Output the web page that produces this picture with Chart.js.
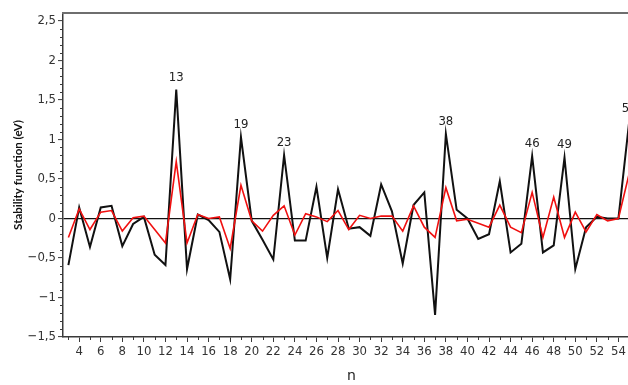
<!DOCTYPE html>
<html>
<head>
<meta charset="utf-8">
<script src="https://cdn.jsdelivr.net/npm/chart.js@4/dist/chart.umd.min.js"></script>
<style>
  html, body { margin: 0; padding: 0; background: #fff; overflow: hidden; width: 628px; height: 385px; }
  #wrap { position: absolute; left: 0; top: 0; width: 640px; height: 385px; }
</style>
</head>
<body>
<div id="wrap"><canvas id="c" width="640" height="385"></canvas></div>
<script>
// Cluster size n
const sizes = [3,4,5,6,7,8,9,10,11,12,13,14,15,16,17,18,19,20,21,22,23,24,25,26,27,28,29,30,
  31,32,33,34,35,36,37,38,39,40,41,42,43,44,45,46,47,48,49,50,51,52,53,54,55];

// Stability function (eV), black curve
const stabilityBlack = [-0.59,0.14,-0.36,0.14,0.16,-0.35,-0.07,0.02,-0.46,-0.59,1.63,-0.64,0.05,-0.02,-0.17,-0.77,
  1.03,-0.03,-0.27,-0.52,0.80,-0.28,-0.28,0.40,-0.50,0.37,-0.13,-0.11,-0.22,0.43,0.09,-0.57,0.17,0.33,-1.22,
  1.07,0.11,0.00,-0.26,-0.20,0.47,-0.43,-0.32,0.79,-0.43,-0.34,0.77,-0.64,-0.11,0.02,0.00,0.00,1.23];

// Stability function (eV), red curve
const stabilityRed = [-0.24,0.12,-0.14,0.08,0.10,-0.16,0.01,0.03,-0.14,-0.31,0.72,-0.31,0.05,0.00,0.02,-0.38,
  0.42,-0.03,-0.16,0.04,0.16,-0.21,0.06,0.02,-0.04,0.10,-0.14,0.04,0.00,0.03,0.03,-0.16,0.16,-0.11,-0.24,
  0.39,-0.03,-0.01,-0.06,-0.11,0.17,-0.11,-0.18,0.33,-0.24,0.27,-0.24,0.08,-0.17,0.05,-0.03,0.00,0.57];

// Magic sizes annotated above the black curve
const magicSizes = [13, 19, 23, 38, 46, 49, 55];

// Axis tick values
const xTickValues = [4,6,8,10,12,14,16,18,20,22,24,26,28,30,32,34,36,38,40,42,44,46,48,50,52,54];
const yTickValues = [-1.5,-1,-0.5,0,0.5,1,1.5,2,2.5];

const TICK_FONT = { family: "'Liberation Sans Narrow', 'DejaVu Sans Condensed', 'Liberation Sans', sans-serif", size: 13 };
const AXIS_COLOR = '#3a3a3a';

const toPoints = ys => sizes.map((n, i) => ({ x: n, y: ys[i] }));
const fmt = v => (v < 0 ? '\u2212' : '') + String(Math.abs(v)).replace('.', ',');

// Minor ticks, top frame line and size annotations
const extras = {
  id: 'extras',
  afterDraw(chart) {
    const { ctx, chartArea, scales } = chart;
    const x = scales.x, y = scales.y;
    ctx.save();
    // top frame
    ctx.strokeStyle = '#6e6e6e';
    ctx.lineWidth = 2;
    ctx.beginPath();
    ctx.moveTo(chartArea.left - 1, chartArea.top);
    ctx.lineTo(chartArea.right, chartArea.top);
    ctx.stroke();
    // minor ticks
    ctx.strokeStyle = AXIS_COLOR;
    ctx.lineWidth = 1;
    ctx.beginPath();
    for (let k = Math.ceil(x.min); k <= x.max; k++) {
      if (k % 2 === 0) continue;
      const px = Math.round(x.getPixelForValue(k)) + 0.5;
      ctx.moveTo(px, chartArea.bottom);
      ctx.lineTo(px, chartArea.bottom + 3);
    }
    for (let k = Math.round(y.min * 10); k <= Math.round(2.5 * 10); k++) {
      if (k % 5 === 0) continue;
      const py = Math.round(y.getPixelForValue(k / 10)) + 0.5;
      ctx.moveTo(chartArea.left, py);
      ctx.lineTo(chartArea.left - 3, py);
    }
    ctx.stroke();
    // annotations
    ctx.fillStyle = '#222';
    ctx.font = "13px 'Liberation Sans Narrow', 'DejaVu Sans Condensed', 'Liberation Sans', sans-serif";
    ctx.textAlign = 'center';
    ctx.textBaseline = 'bottom';
    magicSizes.forEach(n => {
      const i = sizes.indexOf(n);
      const px = x.getPixelForValue(n);
      const py = y.getPixelForValue(stabilityBlack[i]);
      ctx.fillText(String(n), px, py - 6);
    });
    ctx.restore();
  }
};

new Chart(document.getElementById('c'), {
  type: 'line',
  data: {
    datasets: [
      { label: 'red', data: toPoints(stabilityRed), borderColor: '#f01010', borderWidth: 1.6,
        pointRadius: 0, tension: 0, fill: false },
      { label: 'black', data: toPoints(stabilityBlack), borderColor: '#111', borderWidth: 2,
        pointRadius: 0, tension: 0, fill: false }
    ]
  },
  options: {
    responsive: false,
    animation: false,
    events: [],
    layout: { padding: { left: 0, right: 0, top: 13, bottom: 0 } },
    plugins: { legend: { display: false }, tooltip: { enabled: false } },
    scales: {
      x: {
        type: 'linear', min: 2.5, max: 56,
        afterBuildTicks: s => { s.ticks = xTickValues.map(v => ({ value: v })); },
        afterFit: s => { s.height = 48; },
        ticks: { font: TICK_FONT, color: '#333', padding: 2, maxRotation: 0, autoSkip: false,
          callback: v => String(v) },
        grid: { drawOnChartArea: false, drawTicks: true, tickLength: 5, tickColor: AXIS_COLOR, tickWidth: 1 },
        border: { display: true, color: AXIS_COLOR, width: 1.5 },
        title: { display: true, text: 'n', color: '#222', padding: { top: 0, bottom: 0 },
          font: { family: "'DejaVu Sans', sans-serif", size: 14 } }
      },
      y: {
        type: 'linear', min: -1.5, max: 2.6,
        afterBuildTicks: s => { s.ticks = yTickValues.map(v => ({ value: v })); },
        afterFit: s => { s.width = 63; },
        ticks: { font: TICK_FONT, color: '#333', padding: 2, autoSkip: false, callback: v => fmt(v) },
        grid: {
          drawOnChartArea: true, drawTicks: true, tickLength: 5, tickColor: AXIS_COLOR, tickWidth: 1,
          color: c => (c.tick && c.tick.value === 0 ? '#111' : 'rgba(0,0,0,0)'), lineWidth: 1.2
        },
        border: { display: true, color: AXIS_COLOR, width: 1.5 },
        title: { display: true, text: 'Stability function (eV)', color: '#111', padding: { top: 11, bottom: 0 },
          font: { family: "Lato, 'Open Sans', sans-serif", size: 11.5, weight: 'bold' } }
      }
    }
  },
  plugins: [extras]
});
</script>
</body>
</html>
